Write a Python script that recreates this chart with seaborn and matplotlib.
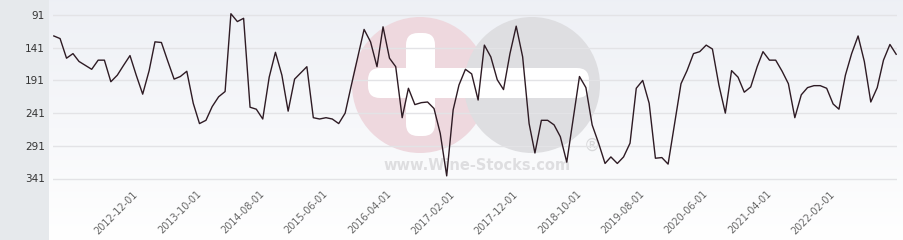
import numpy as np
import pandas as pd
import matplotlib
matplotlib.use("Agg")
import matplotlib.pyplot as plt
from matplotlib.patches import Rectangle, Circle, FancyBboxPatch
import seaborn as sns

# ---- data ----
start_month = "2011-11-01"
ranks = [123, 127, 157, 150, 162, 168, 174, 160, 160, 193, 183, 168, 153, 183, 212,
         176, 132, 133, 161, 189, 185, 177, 226, 257, 252, 231, 216, 208, 89, 101,
         96, 232, 235, 250, 186, 148, 183, 238, 189, 179, 170, 248, 250, 248, 250,
         257, 241, 198, 155, 113, 132, 170, 109, 157, 170, 248, 203, 228, 225, 224,
         234, 272, 337, 236, 198, 174, 181, 221, 137, 155, 190, 205, 150, 108, 155,
         257, 302, 252, 252, 259, 277, 316, 249, 185, 202, 259, 287, 318, 308, 318,
         308, 287, 203, 191, 226, 310, 309, 319, 257, 196, 176, 150, 147, 137, 143,
         198, 241, 176, 186, 209, 201, 170, 147, 160, 160, 177, 196, 248, 213, 202,
         199, 199, 203, 227, 235, 183, 150, 123, 162, 224, 202, 160, 136, 151]
y_ticks = [91, 141, 191, 241, 291, 341]
x_tick_labels = ["2012-12-01", "2013-10-01", "2014-08-01", "2015-06-01", "2016-04-01",
                 "2017-02-01", "2017-12-01", "2018-10-01", "2019-08-01", "2020-06-01",
                 "2021-04-01", "2022-02-01"]

dates = pd.date_range(start_month, periods=len(ranks), freq="MS")
df = pd.DataFrame({"date": dates, "rank": ranks})

W, H = 904, 240
fig = plt.figure(figsize=(W / 100, H / 100), dpi=100)
fig.patch.set_facecolor("white")

# gradient background of plot region
bg = fig.add_axes([49 / W, 0, (W - 49) / W, 1], zorder=0)
grad = np.linspace(0, 1, 256).reshape(-1, 1)
c_top = np.array([0.933, 0.941, 0.961])
c_bot = np.array([1.0, 1.0, 1.0])
img = c_top[None, None, :] * (1 - grad[:, :, None]) + c_bot[None, None, :] * grad[:, :, None]
bg.imshow(img, aspect="auto", extent=[0, 1, 0, 1])
bg.set_axis_off()

# left gray panel
fig.patches.append(Rectangle((0, 0), 49 / W, 1, transform=fig.transFigure,
                             facecolor="#e6e9ec", edgecolor="none", zorder=1))

# watermark layer
wm = fig.add_axes([0, 0, 1, 1], zorder=1)
wm.set_xlim(0, W)
wm.set_ylim(H, 0)
wm.set_axis_off()
wm.add_patch(Circle((420, 85), 68, facecolor="#eed8de", edgecolor="none"))
wm.add_patch(Circle((532, 85), 68, facecolor="#dedee1", edgecolor="none"))
wm.add_patch(FancyBboxPatch((409, 36), 23, 97, boxstyle="round,pad=3,rounding_size=12",
                            facecolor="white", edgecolor="none"))
wm.add_patch(FancyBboxPatch((371, 71), 215, 24, boxstyle="round,pad=3,rounding_size=12",
                            facecolor="white", edgecolor="none"))
wm.text(477, 166, "www.Wine-Stocks.com", ha="center", va="center", fontsize=10.5,
        fontweight="bold", color="#dedee0", family="DejaVu Sans")
wm.text(592, 146, "®", ha="center", va="center", fontsize=12, color="#d8d8da")

# main axes
ax_left, ax_right, ax_top, ax_bottom = 53, 897, 0, 187
ax = fig.add_axes([ax_left / W, 1 - ax_bottom / H, (ax_right - ax_left) / W,
                   (ax_bottom - ax_top) / H], zorder=2)
ax.patch.set_alpha(0)
sns.lineplot(data=df, x="date", y="rank", ax=ax, color="#2e1b24", linewidth=1.0)

ax.set_ylim(354, 68)
ax.set_yticks(y_ticks)
ax.set_yticklabels([str(v) for v in y_ticks])
ax.grid(axis="y", color="#e3e3e6", linewidth=1)
ax.grid(axis="x", visible=False)
ax.set_axisbelow(True)

ax.set_xlim(dates[0] - pd.Timedelta(days=4), dates[-1] + pd.Timedelta(days=4))
ax.set_xticks(pd.to_datetime(x_tick_labels))
ax.set_xticklabels(x_tick_labels, rotation=45, ha="right", va="center",
                   rotation_mode="anchor")

ax.tick_params(axis="y", length=0, pad=6, labelsize=7.5, labelcolor="#333333")
ax.tick_params(axis="x", length=0, pad=4, labelsize=7, labelcolor="#666666")
ax.set_xlabel("")
ax.set_ylabel("")
for s in ax.spines.values():
    s.set_visible(False)

fig.savefig("out.png", dpi=100)
